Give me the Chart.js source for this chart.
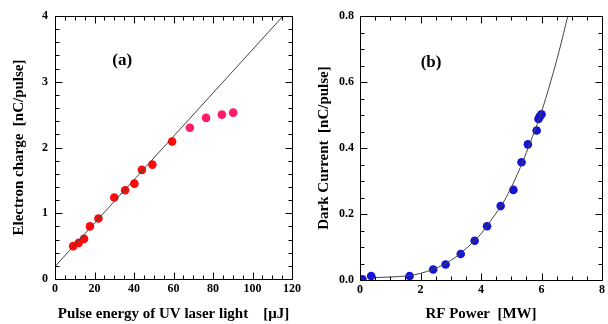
<!DOCTYPE html>
<html>
<head>
<meta charset="utf-8">
<script src="https://cdn.jsdelivr.net/npm/chart.js@4"></script>
<style>
  body { margin: 0; background: #fff; }
  #wrap { position: relative; width: 608px; height: 324px; }
  canvas { position: absolute; top: 0; }
</style>
</head>
<body>
<div id="wrap">
  <canvas id="chart-a" width="304" height="324" style="left:0"></canvas>
  <canvas id="chart-b" width="304" height="324" style="left:304px"></canvas>
</div>
<script>
// (a) electron charge vs pulse energy
const pulseEnergy = [9.2, 12, 14.7, 17.7, 22, 30, 35.5, 40.2, 44, 49.3, 59.3];
const charge = [0.50, 0.55, 0.61, 0.80, 0.92, 1.24, 1.35, 1.45, 1.66, 1.74, 2.09];
const pulseEnergyHigh = [68.3, 76.5, 84.5, 90.2];
const chargeHigh = [2.30, 2.45, 2.50, 2.53];
const fitEnergy = [0, 115.5];
const fitCharge = [0.19, 4];

// (b) dark current vs RF power
const rfPower = [0.08, 0.37, 1.64, 2.42, 2.83, 3.33, 3.79, 4.2, 4.65, 5.07, 5.34, 5.55, 5.84, 5.9, 5.94, 6.0];
const darkCurrent = [0.002, 0.012, 0.012, 0.032, 0.047, 0.079, 0.119, 0.163, 0.224, 0.273, 0.357, 0.411, 0.453, 0.488, 0.495, 0.502];
const curvePower = [0.4, 1.0, 1.6, 2.0, 2.4, 2.8, 3.2, 3.6, 4.0, 4.4, 4.8, 5.2, 5.6, 6.0, 6.3, 6.6, 6.87];
const curveCurrent = [0.007, 0.009, 0.013, 0.02, 0.032, 0.048, 0.072, 0.103, 0.14, 0.19, 0.245, 0.32, 0.41, 0.51, 0.6, 0.7, 0.8];

const serif = '"Liberation Serif", "Times New Roman", serif';
Chart.defaults.font.family = serif;
Chart.defaults.color = '#000';

const pts = (xs, ys) => xs.map((x, i) => ({ x: x, y: ys[i] }));
const isMajor = (v, step) => Math.abs(v / step - Math.round(v / step)) < 1e-6;

// frame + inward ticks on all four sides, plus the panel letter
const framePlugin = {
  id: 'frame',
  afterDraw(chart, args, opts) {
    const ctx = chart.ctx;
    const a = chart.chartArea;
    const xs = chart.scales.x, ys = chart.scales.y;
    const L = Math.round(a.left) + 0.5, R = Math.round(a.right) + 0.5;
    const T = Math.round(a.top) + 0.5, B = Math.round(a.bottom) + 0.5;
    ctx.save();
    ctx.strokeStyle = '#000';
    ctx.lineWidth = 1;
    ctx.beginPath();
    ctx.rect(L, T, R - L, B - T);
    xs.ticks.forEach(t => {
      const len = isMajor(t.value, opts.xMajor) ? 7 : 4;
      const px = Math.round(xs.getPixelForValue(t.value)) + 0.5;
      ctx.moveTo(px, B); ctx.lineTo(px, B - len);
      ctx.moveTo(px, T); ctx.lineTo(px, T + len);
    });
    ys.ticks.forEach(t => {
      const len = isMajor(t.value, opts.yMajor) ? 7 : 4;
      const py = Math.round(ys.getPixelForValue(t.value)) + 0.5;
      ctx.moveTo(L, py); ctx.lineTo(L + len, py);
      ctx.moveTo(R, py); ctx.lineTo(R - len, py);
    });
    ctx.stroke();
    ctx.font = 'bold 17px ' + serif;
    ctx.textAlign = 'center';
    ctx.textBaseline = 'middle';
    ctx.fillStyle = '#000';
    ctx.fillText(opts.label, xs.getPixelForValue(opts.labelX), ys.getPixelForValue(opts.labelY));
    ctx.restore();
  }
};

function axisOpts(min, max, step, major, decimals, title, pos, size, tickPad, titlePad) {
  return {
    type: 'linear',
    position: pos,
    min: min,
    max: max,
    grid: { display: false, drawTicks: false },
    border: { display: false },
    ticks: {
      stepSize: step,
      autoSkip: false,
      maxRotation: 0,
      padding: tickPad,
      font: { size: 12, weight: 'bold' },
      callback: v => isMajor(v, major) ? v.toFixed(decimals) : ''
    },
    title: {
      display: true,
      text: title,
      font: { size: 15, weight: 'bold' },
      padding: titlePad
    },
    afterFit: s => { if (pos === 'left') s.width = size; else s.height = size; }
  };
}

const chartA = new Chart(document.querySelector('#chart-a'), {
  type: 'scatter',
  data: {
    datasets: [{
      data: pts(fitEnergy, fitCharge),
      showLine: true,
      borderColor: '#444',
      borderWidth: 1,
      pointRadius: 0
    }, {
      data: pts(pulseEnergy, charge),
      backgroundColor: '#ff0a0a',
      borderWidth: 0,
      pointRadius: 4.3
    }, {
      data: pts(pulseEnergyHigh, chargeHigh),
      backgroundColor: '#ff1a6c',
      borderWidth: 0,
      pointRadius: 4.3
    }]
  },
  options: {
    responsive: false,
    animation: false,
    layout: { padding: { top: 16, right: 9, left: 0, bottom: 0 } },
    plugins: {
      legend: { display: false },
      tooltip: { enabled: false },
      frame: { xMajor: 20, yMajor: 1, label: '(a)', labelX: 34, labelY: 3.32 }
    },
    scales: {
      x: axisOpts(0, 120, 5, 20, 0, 'Pulse energy of UV laser light    [\u03bcJ]', 'bottom', 45, 3, { top: 0, bottom: 1 }),
      y: axisOpts(0, 4, 0.2, 1, 0, 'Electron charge  [nC/pulse]', 'left', 55, 7, { top: 10, bottom: 0 })
    }
  },
  plugins: [framePlugin]
});

const chartB = new Chart(document.querySelector('#chart-b'), {
  type: 'scatter',
  data: {
    datasets: [{
      data: pts(curvePower, curveCurrent),
      showLine: true,
      borderColor: '#444',
      borderWidth: 1,
      pointRadius: 0,
      cubicInterpolationMode: 'monotone'
    }, {
      data: pts(rfPower, darkCurrent),
      backgroundColor: '#1414d2',
      borderWidth: 0,
      pointRadius: 4.3
    }]
  },
  options: {
    responsive: false,
    animation: false,
    layout: { padding: { top: 16, right: 6, left: 0, bottom: 0 } },
    plugins: {
      legend: { display: false },
      tooltip: { enabled: false },
      frame: { xMajor: 2, yMajor: 0.2, label: '(b)', labelX: 2.35, labelY: 0.66 }
    },
    scales: {
      x: axisOpts(0, 8, 0.5, 2, 0, 'RF Power  [MW]', 'bottom', 44, 3, { top: 0, bottom: 1 }),
      y: axisOpts(0, 0.8, 0.05, 0.2, 1, 'Dark Current  [nC/pulse]', 'left', 56, 6, { top: 11, bottom: 0 })
    }
  },
  plugins: [framePlugin]
});
</script>
</body>
</html>
